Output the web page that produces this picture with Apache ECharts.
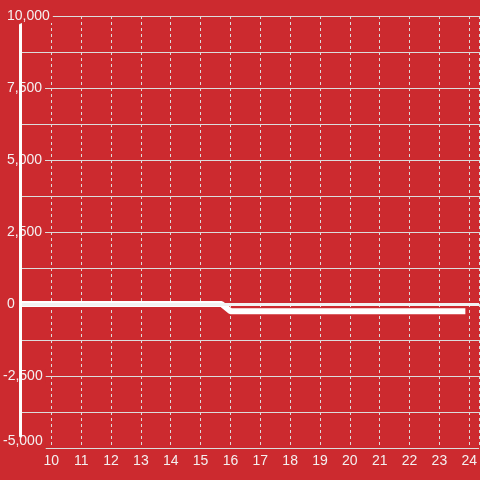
<!DOCTYPE html>
<html>
<head>
<meta charset="utf-8">
<script src="https://cdn.jsdelivr.net/npm/echarts@6/dist/echarts.min.js"></script>
<style>
  html, body { margin: 0; padding: 0; background: #cc2a2f; }
  #chart { width: 480px; height: 480px; }
</style>
</head>
<body>
<div id="chart"></div>
<script>
var bgColor = '#cc2a2f';
var textColor = '#f4f0f0';
var gridColor = '#dcdcdc';
var fontFamily = 'Liberation Sans, Arial, sans-serif';

// line series (x = hour, y = value)
var xValues = [9, 15.7, 16, 23.87];
var lineValues = [0, 0, -250, -250];
var baseline = 0;

// axes
var yMin = -5000, yMax = 10000, yStep = 1250;
var yLabelValues = [-5000, -2500, 0, 2500, 5000, 7500, 10000];
var xMin = 9, xMax = 24.33;
var xLabelValues = [10, 11, 12, 13, 14, 15, 16, 17, 18, 19, 20, 21, 22, 23, 24];

function thousands(v) {
    var s = String(Math.abs(v)).replace(/\B(?=(\d{3})+(?!\d))/g, ',');
    return (v < 0 ? '-' : '') + s;
}

var seriesData = [];
for (var i = 0; i < xValues.length; i++) {
    seriesData.push([xValues[i], lineValues[i]]);
}

// y labels: the minus sign hangs left of the other numbers
function yLabelAxis(margin, keep) {
    return {
        type: 'value', gridIndex: 0, position: 'left', offset: 0, min: yMin, max: yMax, interval: yStep, z: 1,
        axisLine: { show: false }, axisTick: { show: false }, splitLine: { show: false },
        axisLabel: {
            align: 'left', margin: margin,
            fontSize: 14, fontFamily: fontFamily, color: textColor,
            backgroundColor: bgColor, padding: [0, 3, 0, 0],
            formatter: function (v) {
                if (yLabelValues.indexOf(v) < 0 || !keep(v)) return '';
                var s = thousands(v);
                if (v === yMin) return '{low|' + s + '}';
                return s;
            },
            rich: {
                low: { fontSize: 14, fontFamily: fontFamily, color: textColor, padding: [0, 0, 14, 0] }
            }
        }
    };
}

var option = {
    backgroundColor: bgColor,
    animation: false,
    grid: [
        { left: 20, right: 0, top: 16, bottom: 32 },
        { left: 20, right: 0, top: 25, bottom: 44 }
    ],
    xAxis: [
        {
            type: 'value', gridIndex: 0, min: xMin, max: xMax, interval: 1,
            axisLine: { show: false },
            axisTick: { show: false },
            axisLabel: {
                fontSize: 14, fontFamily: fontFamily, color: textColor, margin: 6,
                showMinLabel: false, showMaxLabel: false,
                formatter: function (v) {
                    return xLabelValues.indexOf(v) >= 0 ? String(v) : '';
                }
            },
            splitLine: { show: true, lineStyle: { color: gridColor, width: 1, type: [3, 3] } }
        },
        {
            type: 'value', gridIndex: 1, min: xMin, max: xMax, show: false
        }
    ],
    yAxis: [
        {
            // horizontal grid lines
            type: 'value', gridIndex: 0, position: 'left', min: yMin, max: yMax, interval: yStep, z: 0,
            axisLine: { show: false }, axisTick: { show: false }, axisLabel: { show: false },
            splitLine: { show: true, lineStyle: { color: gridColor, width: 1 } }
        },
        yLabelAxis(14.5, function (v) { return v >= 0; }),
        yLabelAxis(18.5, function (v) { return v < 0; }),
        {
            // white vertical axis bar
            type: 'value', gridIndex: 1, position: 'left', offset: 0, min: yMin, max: yMax, z: 5,
            axisLine: { show: true, lineStyle: { color: '#ffffff', width: 3 } },
            axisTick: { show: false }, axisLabel: { show: false }, splitLine: { show: false }
        }
    ],
    series: [
        {
            type: 'line',
            xAxisIndex: 0,
            yAxisIndex: 0,
            data: seriesData,
            showSymbol: false,
            symbol: 'none',
            z: 3,
            lineStyle: { color: '#ffffff', width: 6 },
            markLine: {
                silent: true,
                symbol: ['none', 'none'],
                label: { show: false },
                lineStyle: { color: '#f2f2f2', width: 3, type: 'solid' },
                data: [{ yAxis: baseline }]
            }
        }
    ]
};

echarts.init(document.getElementById('chart')).setOption(option, true);
</script>
</body>
</html>
